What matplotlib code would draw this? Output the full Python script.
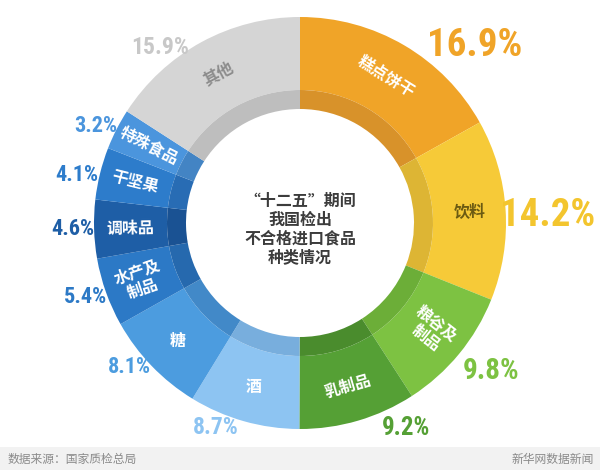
import numpy as np
import matplotlib.pyplot as plt
from matplotlib.patches import Rectangle
from matplotlib import font_manager as fm

# data
cats = ['糕点饼干', '饮料', '粮谷及\n制品', '乳制品', '酒', '糖', '水产及\n制品',
        '调味品', '干坚果', '特殊食品', '其他']
vals = [16.9, 14.2, 9.8, 9.2, 8.7, 8.1, 5.4, 4.6, 4.1, 3.2, 15.9]

outer = ['#F0A428', '#F6CA38', '#7DC242', '#55A035', '#8DC4F2', '#4C9CDF',
         '#2C79C6', '#1E5EA6', '#2D7CCB', '#4B95DD', '#D5D5D5']
inner = ['#D8922A', '#DDB534', '#6CAE38', '#4A8C2D', '#78AEDD', '#4289C8',
         '#2669AE', '#1A5293', '#286CB4', '#4384C4', '#BEBEBE']
pct_col = ['#F0A428', '#F3C52E', '#7DC242', '#55A035', '#8DC4F2', '#4C9CDF',
           '#2C79C6', '#1E5EA6', '#2D7CCB', '#4B95DD', '#C8C8C8']
name_col = ['white', '#6B5A12', 'white', 'white', 'white', 'white', 'white',
            'white', 'white', 'white', '#8C8C8C']
# layout (image pixels, y down)
pct_pos = [(475, 45), (548, 216), (491, 371), (406, 428), (216, 428), (129, 367),
           (86, 297), (73, 229), (77, 175), (96, 126), (160, 47)]
pct_size = [28, 28, 21, 18, 17, 16, 16, 16, 16, 16, 17]
rots = [-32, 0, -38, 16, 0, 0, 19, 1, -14, -27, 28]

W, H = 600, 470
cx, cy = 300, H - 223
R, r_mid, r_in = 206, 133, 114

cjk = ['Noto Sans CJK SC', 'DejaVu Sans']

# narrow face for the percentages, whatever is installed
names = sorted({f.name for f in fm.fontManager.ttflist})
narrow = None
for key in ['Liberation Sans Narrow', 'Roboto Condensed', 'Open Sans Condensed',
            'DejaVu Sans Condensed']:
    if key in names:
        narrow = key
        break
if narrow is None:
    for n in names:
        if 'Narrow' in n or 'Condensed' in n:
            narrow = n
            break
scale = 1.0
if narrow is None:
    narrow = 'DejaVu Sans'
    scale = 0.72

fig = plt.figure(figsize=(6, 4.7), dpi=100)
ax = fig.add_axes([0, 0, 1, 1])

ax.pie(vals, radius=R, center=(cx, cy), startangle=90, counterclock=False,
       colors=outer, wedgeprops=dict(width=R - r_mid, linewidth=0))
ax.pie(vals, radius=r_mid, center=(cx, cy), startangle=90, counterclock=False,
       colors=inner, wedgeprops=dict(width=r_mid - r_in, linewidth=0))

# category names in the ring
v = np.array(vals)
mid = 90 - 360*(np.cumsum(v) - v/2)/v.sum()
rr = 170
for i, name in enumerate(cats):
    a = np.radians(mid[i])
    ax.text(cx + rr*np.cos(a), cy + rr*np.sin(a), name, ha='center', va='center',
            rotation=rots[i], rotation_mode='anchor', color=name_col[i],
            fontsize=11.5, fontweight='bold', family=cjk, linespacing=1.15)

# percent labels
for i in range(len(vals)):
    x, y = pct_pos[i]
    ax.text(x, H - y, '%.1f%%' % vals[i], ha='center', va='center',
            color=pct_col[i], fontsize=pct_size[i]*scale, fontweight='bold',
            family=[narrow, 'DejaVu Sans'], fontstretch='condensed')

# centre title
ax.text(cx, H - 229, '“十二五”期间\n我国检出\n不合格进口食品\n种类情况',
        ha='center', va='center', fontsize=11.5, fontweight='bold',
        color='#3C3C3C', family=cjk, linespacing=1.2)

# footer
ax.add_patch(Rectangle((0, 0), W, 23, color='#F2F2F2', lw=0))
ax.text(8, 11, '数据来源：国家质检总局', ha='left', va='center', fontsize=8.5,
        color='#8A8A8A', family=cjk)
ax.text(594, 11, '新华网数据新闻', ha='right', va='center', fontsize=8.5,
        color='#8A8A8A', family=cjk)

ax.set_xlim(0, W)
ax.set_ylim(0, H)
ax.set_aspect('equal')
ax.axis('off')
plt.savefig('out.png', dpi=100)
plt.close()
